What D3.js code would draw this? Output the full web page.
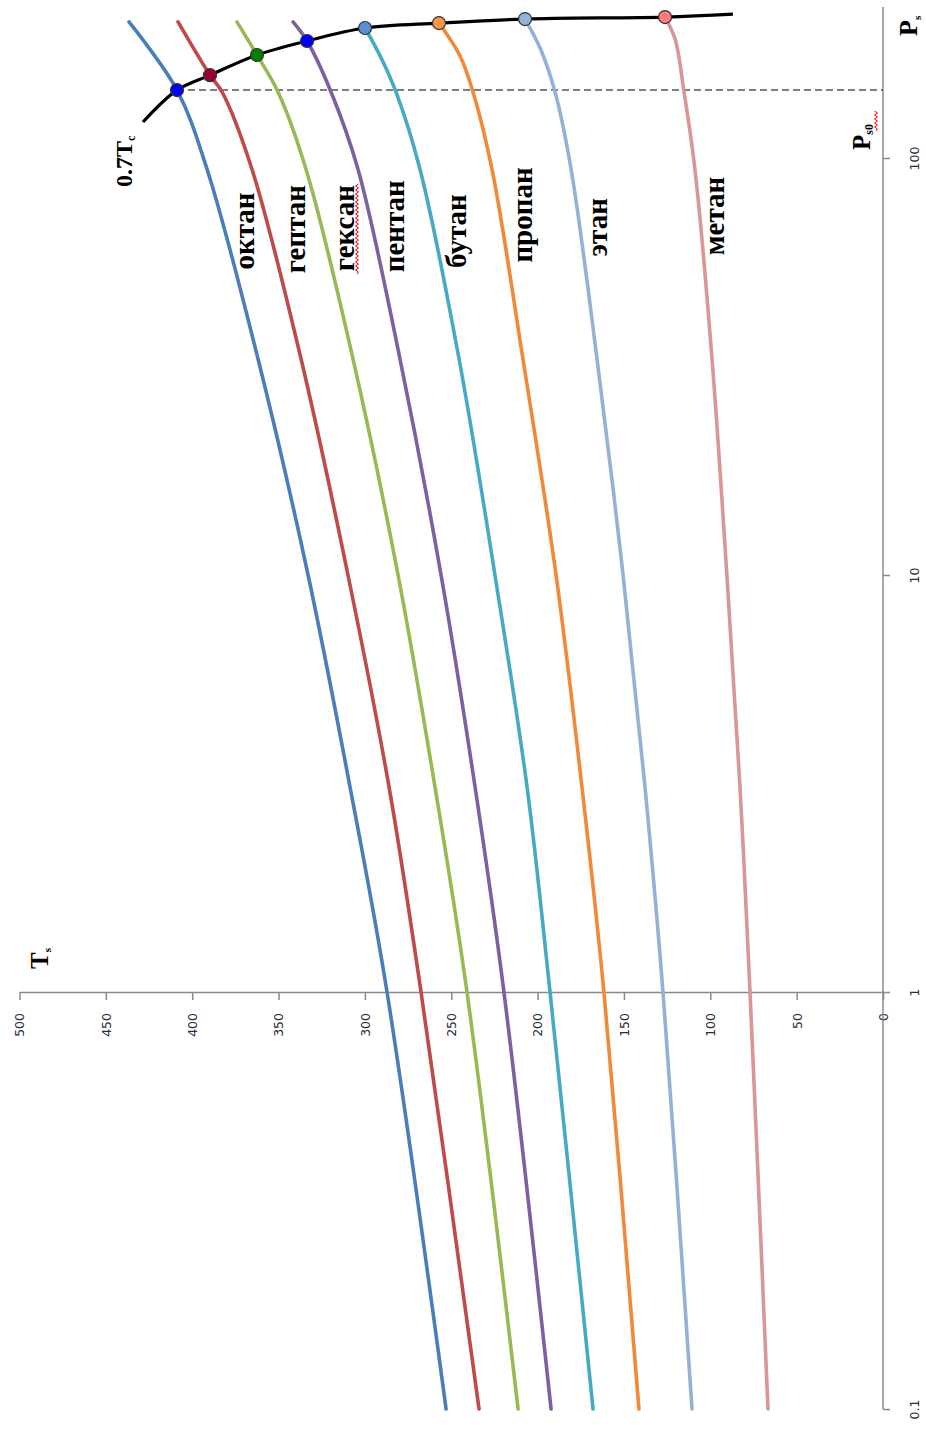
<!DOCTYPE html>
<html>
<head>
<meta charset="utf-8">
<script src="https://cdn.jsdelivr.net/npm/d3@7"></script>
<style>
  html, body { margin: 0; padding: 0; background: #fff; }
  svg { display: block; }
  .tick text { font-family: "DejaVu Sans", "Liberation Sans", Arial, sans-serif; font-size: 12.5px; fill: #2b2b3a; }
  .lbl { font-family: "Liberation Serif", "Times New Roman", serif; font-weight: bold; fill: #000; }
</style>
</head>
<body>
<svg id="chart" width="926" height="1430"></svg>
<script>
// Saturation pressure levels (Ps) at which each vapour-pressure curve is sampled
const pressureLevels = [0.1, 1, 3.1, 10, 33, 94, 144];

// Saturation temperature Ts at each pressure level
const octaneT  = [253.0, 287.2, 308.6, 332.9, 361.9, 391.4, null];
const heptaneT = [233.9, 267.5, 286.0, 309.8, 337.0, 365.4, 382.7];
const hexaneT  = [211.3, 240.9, 259.4, 280.8, 306.9, 334.1, 350.3];
const pentaneT = [192.2, 219.5, 236.2, 255.9, 279.7, 304.0, 319.6];
const butaneT  = [167.9, 192.8, 206.1, 224.7, 245.5, 268.1, 282.0];
const propaneT = [141.3, 161.6, 174.3, 189.3, 208.5, 226.4, 237.4];
const ethaneT  = [110.6, 127.4, 137.8, 150.5, 165.6, 180.6, 189.9];
const methaneT = [66.6, 77.0, 82.8, 90.4, 99.0, 108.9, 115.2];

// One more sample just below the 0.7·Tc point, where the light alkanes bend hardest
const upperT = [null, null, null, null, 290.3, 244.9, 198.3, 120.4];
const upperP = [null, null, null, null, 172.8, 175.6, 182.6, 192.9];

// Points at T = 0.7·Tc on each curve
const markerT = [408.8, 389.7, 362.5, 333.5, 299.9, 257.1, 207.3, 126.2];
const markerP = [145.5, 158.0, 176.6, 190.8, 205.0, 210.7, 215.4, 217.8];

// Curve ends beyond the 0.7·Tc point (heavier alkanes only)
const endT = [436.6, 408.2, 374.1, 341.6, null, null, null, null];
const endP = [212, 212, 212, 212, null, null, null, null];

// 0.7·Tc line: extra points before the first and after the last marker
const tcLineStart = [428.5, 122];
const tcLineEnd = [86.9, 221.3];

// Reference pressure Ps0 (the 0.7·Tc pressure of octane)
const ps0 = 145.5;

const names = ["октан", "гептан", "гексан", "пентан", "бутан", "пропан", "этан", "метан"];
const colors = ["#4A7EBB", "#BE4B48", "#98B954", "#7D60A0", "#46AAC5", "#F08A3A", "#95B1D8", "#D99694"];
const markerColors = ["#0000FF", "#990033", "#008000", "#0000FF", "#5B8FD4", "#F79646", "#95B3D7", "#FF7C80"];

// Label anchors (T, P) for the curve names
const labelT = [369.4, 339.9, 311.5, 282.6, 246.7, 208.5, 165.0, 97.3];
const labelP = [66.8, 67.5, 67.9, 68.6, 66.8, 73.0, 68.2, 72.6];

const tTicks = [0, 50, 100, 150, 200, 250, 300, 350, 400, 450, 500];
const pTicks = [0.1, 1, 10, 100];
const pTickLabels = ["0.1", "1", "10", "100"];

const seriesT = [octaneT, heptaneT, hexaneT, pentaneT, butaneT, propaneT, ethaneT, methaneT];

const svg = d3.select("#chart");

// Ts runs right-to-left, Ps (log) runs bottom-to-top
const x = d3.scaleLinear().domain([0, 500]).range([883, 19.5]);
const y = d3.scaleLog().domain([0.1, 100]).range([1409, 158]);
const pTopPx = 7;

const axisColor = "#8a8a8a";

// ---- Ts axis (horizontal, at Ps = 1) ----
const tAxis = svg.append("g")
  .attr("transform", `translate(0,${y(1)})`)
  .call(d3.axisBottom(x).tickValues(tTicks).tickSize(8).tickSizeOuter(0));
tAxis.select(".domain").attr("stroke", axisColor).attr("stroke-width", 1.5);
tAxis.selectAll(".tick line").attr("stroke", axisColor).attr("stroke-width", 1.5);
tAxis.selectAll(".tick text")
  .attr("transform", "rotate(-90)")
  .attr("x", -21).attr("y", 0).attr("dy", "0.35em")
  .attr("text-anchor", "end");

// ---- Ps axis (vertical, at Ts = 0) ----
const pAxis = svg.append("g")
  .attr("transform", `translate(${x(0)},0)`)
  .call(d3.axisRight(y).tickValues(pTicks).tickSize(7).tickSizeOuter(0)
    .tickFormat((d, i) => pTickLabels[i]));
pAxis.select(".domain").remove();
pAxis.append("line")
  .attr("x1", 0).attr("x2", 0).attr("y1", y(0.1)).attr("y2", pTopPx)
  .attr("stroke", axisColor).attr("stroke-width", 1.5);
pAxis.selectAll(".tick line").attr("stroke", axisColor).attr("stroke-width", 1.5);
pAxis.selectAll(".tick text")
  .attr("x", 0).attr("y", 0).attr("dy", "0.35em")
  .attr("transform", "translate(32,0) rotate(-90)")
  .attr("text-anchor", "middle");

// ---- Dashed Ps0 level ----
svg.append("line")
  .attr("x1", x(markerT[0])).attr("x2", x(0))
  .attr("y1", y(ps0)).attr("y2", y(ps0))
  .attr("stroke", "#555").attr("stroke-width", 1.5)
  .attr("stroke-dasharray", "7,4");

// ---- Vapour-pressure curves ----
const curveLine = d3.line()
  .x(d => x(d[0])).y(d => y(d[1]))
  .curve(d3.curveCatmullRom.alpha(0.5));

seriesT.forEach((ts, i) => {
  const pts = [];
  ts.forEach((t, k) => { if (t !== null) pts.push([t, pressureLevels[k]]); });
  if (upperT[i] !== null) pts.push([upperT[i], upperP[i]]);
  pts.push([markerT[i], markerP[i]]);
  if (endT[i] !== null) pts.push([endT[i], endP[i]]);
  svg.append("path")
    .attr("d", curveLine(pts))
    .attr("fill", "none")
    .attr("stroke", colors[i])
    .attr("stroke-width", 3.6)
    .attr("stroke-linecap", "round");
});

// ---- 0.7·Tc line through the markers ----
const tcPts = [tcLineStart].concat(markerT.map((t, i) => [t, markerP[i]])).concat([tcLineEnd]);
svg.append("path")
  .attr("d", curveLine(tcPts))
  .attr("fill", "none")
  .attr("stroke", "#000")
  .attr("stroke-width", 3.2);

// ---- Markers ----
svg.selectAll("circle.mk")
  .data(markerT)
  .join("circle")
  .attr("class", "mk")
  .attr("cx", d => x(d))
  .attr("cy", (d, i) => y(markerP[i]))
  .attr("r", 6.5)
  .attr("fill", (d, i) => markerColors[i])
  .attr("stroke", "#333")
  .attr("stroke-width", 1.2);

// ---- Curve names (rotated, reading upward) ----
svg.selectAll("text.name")
  .data(names)
  .join("text")
  .attr("class", "lbl name")
  .attr("font-size", 29)
  .attr("text-anchor", "middle")
  .attr("dy", "0.3em")
  .attr("transform", (d, i) => `translate(${x(labelT[i])},${y(labelP[i])}) rotate(-90)`)
  .text(d => d);

// Spell-check style wavy underline
function wavy(x0, y0, y1) {
  let d = `M${x0},${y0}`;
  let s = 1;
  for (let yy = y0; yy > y1; yy -= 2) { d += `L${x0 + s * 1.5},${yy - 2}`; s = -s; }
  return d;
}
svg.append("path").attr("d", wavy(357, 274, 185))
  .attr("fill", "none").attr("stroke", "#f00").attr("stroke-width", 1);

// ---- Axis titles and annotations ----
function subLabel(px, py, main, sub, size, subSize, subShift) {
  const t = svg.append("text")
    .attr("class", "lbl")
    .attr("font-size", size)
    .attr("transform", `translate(${px},${py}) rotate(-90)`);
  t.append("tspan").text(main);
  t.append("tspan").attr("font-size", subSize).attr("dy", subShift).text(sub);
  return t;
}
subLabel(48, 969, "T", "s", 25, 11, 3);
subLabel(917, 36, "P", "s", 26, 11, 4);
subLabel(870, 150, "P", "s0", 25, 12, 3);
svg.append("path").attr("d", wavy(876, 131, 112))
  .attr("fill", "none").attr("stroke", "#f00").attr("stroke-width", 1);
subLabel(132, 187, "0.7T", "c", 24, 12, 3);
</script>
</body>
</html>
